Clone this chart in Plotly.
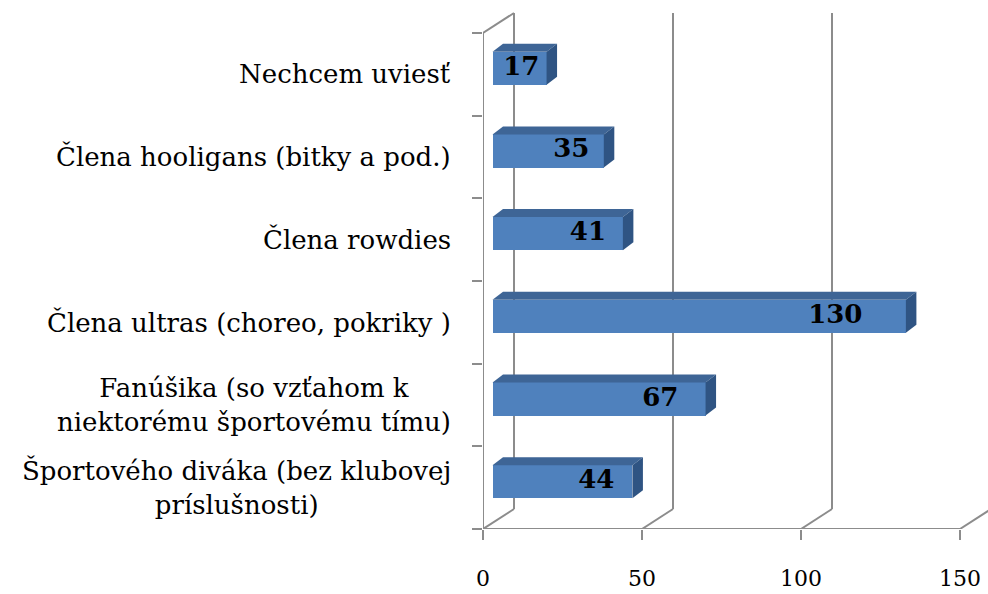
import plotly.graph_objects as go

# ---- data ----
categories = [
    "Športového diváka (bez klubovej<br>príslušnosti)",
    "Fanúšika (so vzťahom k<br>niektorému športovému tímu)",
    "Člena ultras (choreo, pokriky )",
    "Člena rowdies",
    "Člena hooligans (bitky a pod.)",
    "Nechcem uviesť",
]
values = [44, 67, 130, 41, 35, 17]
x_ticks = [0, 50, 100, 150]

# ---- layout / style constants ----
W, H = 988, 594
ML, MR, MT, MB = 483, 0, 8, 65
KX = 3.18            # px per value unit
KY = 82.67           # px per category
PW = W - ML - MR
PH = H - MT - MB
XR = [0, PW / KX]
YR = [-0.5, -0.5 + PH / KY]

DX, DY = 31 / KX, 20 / KY          # wall depth vector
BX0, BY0 = 9.5 / KX, 6 / KY        # bar front face offset
BDX, BDY = 10.5 / KX, 8 / KY       # bar depth
BW = 0.40                          # bar thickness (category units)

GRID = "#8C8C8C"
FRONT = "#4F81BD"
TOP = "#3E6596"
SIDE = "#2F5483"
SERIF = "DejaVu Serif"

n = len(categories)
ypos = list(range(n))
ybar = [y + BY0 for y in ypos]

fig = go.Figure()

# front faces
fig.add_trace(go.Bar(
    y=ybar, x=values, base=[BX0] * n, orientation="h", width=BW,
    marker=dict(color=FRONT, line=dict(width=0)), hoverinfo="skip", showlegend=False,
))

# top and side faces
for yb, v in zip(ybar, values):
    x1 = BX0 + v
    top_x = [BX0, x1, x1 + BDX, BX0 + BDX, BX0]
    top_y = [yb + BW / 2, yb + BW / 2, yb + BW / 2 + BDY, yb + BW / 2 + BDY, yb + BW / 2]
    fig.add_trace(go.Scatter(x=top_x, y=top_y, fill="toself", fillcolor=TOP, mode="lines",
                             line=dict(width=0), hoverinfo="skip", showlegend=False))
    side_x = [x1, x1 + BDX, x1 + BDX, x1, x1]
    side_y = [yb - BW / 2, yb - BW / 2 + BDY, yb + BW / 2 + BDY, yb + BW / 2, yb - BW / 2]
    fig.add_trace(go.Scatter(x=side_x, y=side_y, fill="toself", fillcolor=SIDE, mode="lines",
                             line=dict(width=0), hoverinfo="skip", showlegend=False))

# data labels
fig.add_trace(go.Scatter(
    x=[-2.83 + 0.874 * v for v in values], y=ybar, mode="text",
    text=[str(v) for v in values], textposition="middle center",
    textfont=dict(family=SERIF, size=26, color="black", weight="bold"),
    hoverinfo="skip", showlegend=False,
))

# walls / floor / gridlines (shapes behind the bars)
shapes = []
def line(x0, y0, x1, y1):
    shapes.append(dict(type="line", xref="x", yref="y", x0=x0, y0=y0, x1=x1, y1=y1,
                       line=dict(color=GRID, width=2), layer="below"))

ybot, ytop = -0.5, n - 0.5
line(0, ybot, x_ticks[-1], ybot)          # floor front edge
line(0, ybot, 0, ytop)                    # left wall front edge
line(0, ytop, DX, ytop + DY)              # left wall top edge
for t in x_ticks:
    line(t, ybot, t + DX, ybot + DY)      # floor depth lines
    line(t + DX, ybot + DY, t + DX, ytop + DY)  # back-wall gridlines

# category labels (paper x, left of the plot area)
annotations = []
for y, c in zip(ypos, categories):
    annotations.append(dict(
        x=-30 / PW, y=y, xref="paper", yref="y", text=c, showarrow=False,
        xanchor="right", yanchor="middle", align="center",
        font=dict(family=SERIF, size=26, color="black"),
    ))

fig.update_layout(
    width=W, height=H,
    margin=dict(l=ML, r=MR, t=MT, b=MB, pad=0, autoexpand=False),
    paper_bgcolor="white", plot_bgcolor="rgba(0,0,0,0)",
    shapes=shapes, annotations=annotations,
    xaxis=dict(range=XR, tickvals=x_ticks, ticktext=[str(t) for t in x_ticks],
               ticks="outside", ticklen=10, tickwidth=2, tickcolor=GRID,
               showgrid=False, zeroline=False, showline=False, automargin=False,
               ticklabelstandoff=20,
               tickfont=dict(family=SERIF, size=22, color="black")),
    yaxis=dict(range=YR, tickvals=[ybot + k for k in range(n + 1)],
               ticks="outside", ticklen=10, tickwidth=2, tickcolor=GRID, automargin=False,
               showticklabels=False, showgrid=False, zeroline=False, showline=False),
    bargap=0,
)

fig.write_html("out.html", config={"displayModeBar": False},
               post_script="document.body.style.margin='0';")
